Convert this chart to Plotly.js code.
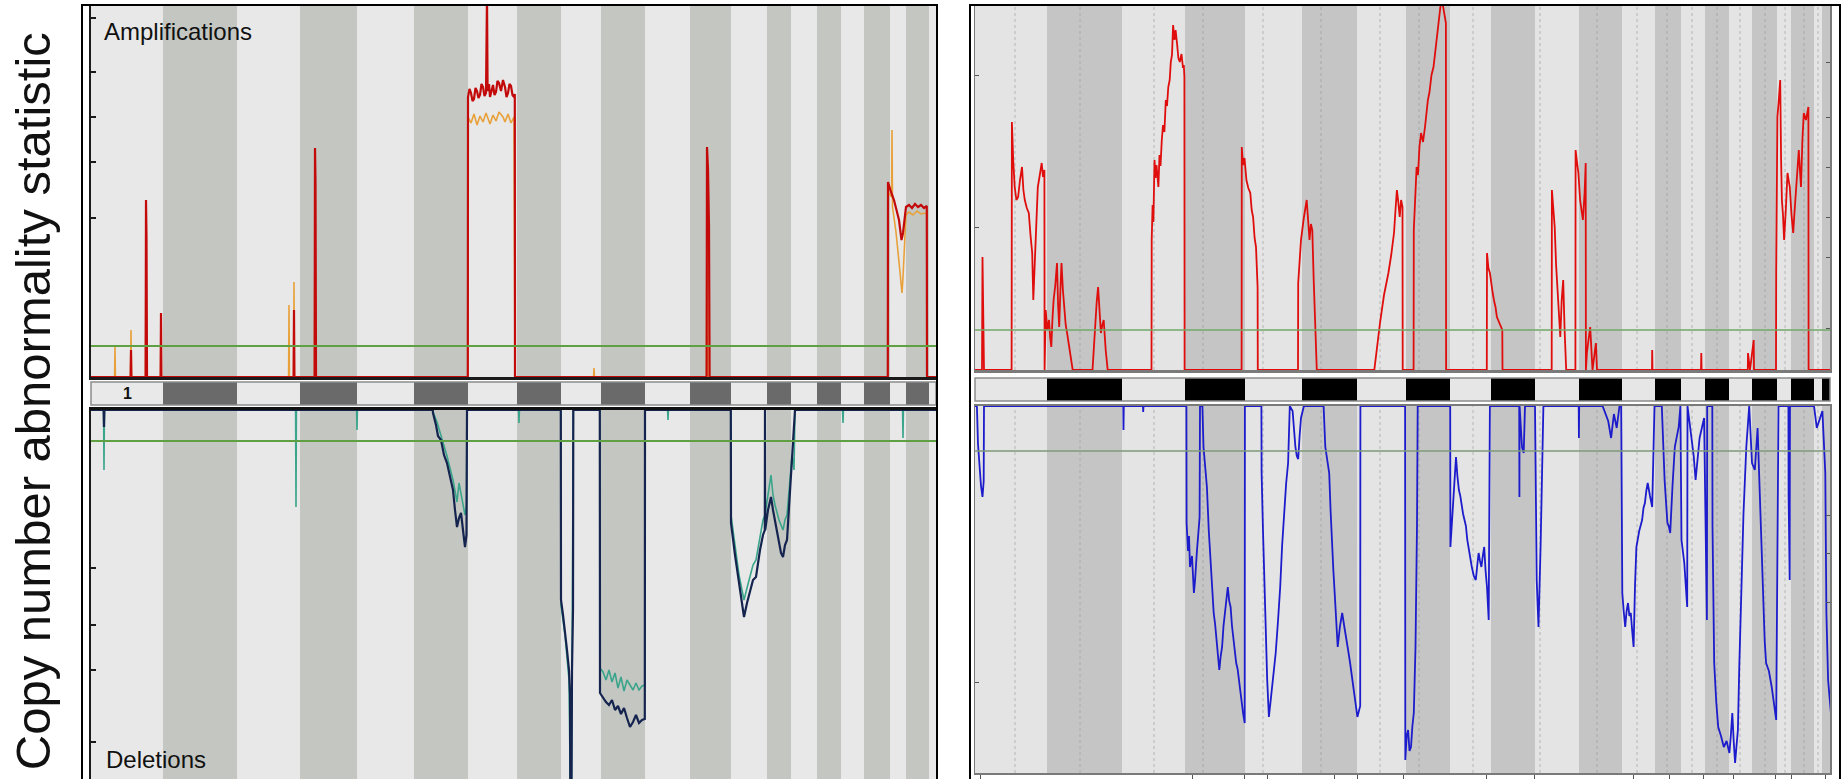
<!DOCTYPE html>
<html>
<head>
<meta charset="utf-8">
<script src="https://cdn.plot.ly/plotly-3.0.1.min.js"></script>
<style>html,body{margin:0;padding:0;background:#fff;}#chart{width:1843px;height:779px;}</style>
</head>
<body>
<div id="chart"></div>
<script>
// ---------------- DATA ----------------
// Chromosome boundaries (genome position units) for the two panels
const leftChromBounds = [0, 72, 146, 209, 266, 323, 377, 426, 470, 510, 554, 599, 640, 676, 700, 726, 750, 773, 799, 815, 838, 845];
const rightChromBounds = [0, 72, 147, 210, 270, 327, 382, 431, 475, 516, 560, 604, 647, 680, 706, 730, 754, 777, 802, 816, 839, 847, 855];
const rightCentromeres = [40, 105, 179, 228, 288, 346, 405, 444, 498, 565, 622, 662, 692, 717, 742, 765, 790, 810, 829, 843];
const chromLabels = ["1"];

// Thresholds
const leftAmpThreshold = 3.1;
const leftDelThreshold = -3.1;
const rightAmpThreshold = 4.0;
const rightDelThreshold = -4.5;

// Left panel: amplifications (two series) [position, statistic]
const leftAmpOrange = [
[0,0],[23.6,0],[24,3.0],[24.4,0],
[39.5,0],[40,4.7],[40.5,0],
[54.6,0],[55,16.5],[55.5,0],
[69.6,0],[70,5.8],[70.4,0],
[197.6,0],[198,7.2],[198.4,0],
[202.6,0],[203,9.5],[203.4,0],
[223.6,0],[224,20.9],[224.5,0],
[376.8,0],[377,26.0],[380,25.4],[383,26.3],[386,25.2],[389,26.1],[392,25.5],[395,26.4],[399,25.3],[402,26.2],[405,25.6],[408,26.5],[412,26.0],[414,25.5],[417,26.3],[420,25.4],[423,26.0],[424,0],
[502.6,0],[503,0.9],[503.4,0],
[615.6,0],[616,22.0],[617,0],
[796.8,0],[797,18.5],[800.6,18],[801,24.7],[801.5,17],[805,14.5],[808,11.5],[811,8.4],[812,10],[815,16.2],[818,16.5],[822,16.2],[826,16.6],[830,16.3],[835.8,16.4],[836,0],[845,0]
];
const leftAmpRed = [
[0,0],[39.6,0],[40,2.7],[40.4,0],
[54.6,0],[55,17.7],[55.5,14],[56,0],
[69.6,0],[70,6.4],[70.4,0],
[202.6,0],[203,6.7],[203.4,0],
[223.6,0],[224,22.9],[224.5,19.5],[225,0],
[376.8,0],[377,28.0],[378.5,28.8],[380,28.4],[381.5,27.6],[383,27.8],[384.5,28.9],[386,28.6],[387.5,27.9],[389,28.2],[390.5,29.3],[392,29.0],[393.5,28.1],[395,28.4],[396,38],[396.6,28.6],[398,29.3],[399,28.0],[400.5,28.7],[402,29.2],[403.5,28.2],[405,28.5],[406.5,29.6],[408,29.4],[410,28.6],[412,29.7],[414,29.0],[415.5,28.0],[417,28.4],[418.5,29.3],[420,29.1],[421.5,28.2],[423,28.0],[423.8,28.3],[424,0],
[615.6,0],[616,23.0],[617,20.8],[618,15],[618.6,0],
[796.8,0],[797,19.5],[800,18.5],[803,17.7],[806,16.5],[808,15.7],[810.5,13.7],[812,14.4],[815,17.0],[818,17.2],[821,16.9],[824,17.3],[827,17.0],[830,17.2],[833,16.9],[835.8,17.1],[836,0],[845,0]
];

// Left panel: deletions (two series)
const leftDelTeal = [
[0,0],[12.6,0],[13,-6.0],[13.4,0],
[204.6,0],[205,-9.7],[205.4,0],
[265.6,0],[266,-2.0],[266.4,0],
[341.8,0],[342,-0.2],[346,-1.2],[350,-2.6],[356,-4.6],[362,-7.0],[366,-9.2],[368,-7.3],[370,-8.5],[374,-10.5],[375.5,-9.5],[376,0],
[427.6,0],[428,-1.3],[428.4,0],
[469.8,0],[470,-19.5],[474,-22.5],[478,-27],[479.3,-38],[480.5,-38],[481,-25],[482.3,0],
[508.8,0],[509,-25.8],[512,-26.2],[515,-27.0],[518,-26.0],[521,-27.2],[524,-26.3],[527,-27.8],[530,-26.7],[533,-28.1],[536,-27.0],[539,-27.5],[542,-28.0],[545,-27.3],[548,-28.0],[551,-27.6],[553.8,-27.5],[554,0],
[576.6,0],[577,-1.0],[577.4,0],
[639.8,0],[640,-10.5],[644,-13.5],[648,-16.5],[651,-18.0],[653,-19.0],[656,-17.8],[659,-16.5],[662,-15.5],[665,-15.0],[669,-12.5],[672,-11.0],[674,-10.5],[677,-8.5],[680,-6.5],[682,-8.5],[684,-9.5],[688,-11.0],[690,-11.5],[692,-12.0],[694,-11.0],[696,-10.5],[699,-7.0],[701,-4.5],[703,-6.0],[704,0],
[751.6,0],[752,-1.3],[752.4,0],
[811.6,0],[812,-2.8],[812.4,0],[845,0]
];
const leftDelNavy = [
[0,0],[12.6,0],[13,-1.7],[13.4,0],
[341.8,0],[342,-0.3],[345,-1.5],[347,-2.6],[350,-3.0],[353,-4.5],[356,-5.3],[359,-6.8],[362,-8.0],[364,-10.0],[366,-11.7],[368,-10.8],[370,-10.3],[372,-12.0],[374,-13.7],[375.5,-12.5],[376,0],
[469.8,0],[470,-19.0],[472,-20.5],[474,-22.0],[476,-24.0],[478,-26.0],[479,-28.5],[479.3,-38],[480.5,-38],[481,-26],[482,-20],[482.3,0],
[508.8,0],[509,-28.3],[512,-28.8],[515,-29.2],[518,-29.5],[521,-29.0],[524,-30.0],[527,-29.6],[530,-30.4],[533,-29.8],[536,-30.8],[539,-31.7],[542,-31.2],[545,-30.5],[548,-31.3],[551,-31.0],[553.8,-30.9],[554,0],
[639.8,0],[640,-11.3],[644,-14.5],[648,-17.5],[651,-19.5],[653,-20.7],[656,-19.3],[659,-18.0],[662,-17.0],[665,-16.7],[669,-14.0],[672,-12.5],[673.8,-12.0],[674,0],[674.2,-12.0],[677,-10.0],[680,-8.7],[682,-10.0],[684,-11.0],[688,-13.0],[690,-14.3],[692,-14.7],[694,-13.5],[696,-13.0],[699,-8.0],[701,-5.3],[703,-2.0],[704,0],[845,0]
];

// Right panel: amplifications
const rightAmp = [
[0,0],[7.0,0],[7.5,11.3],[8.3,3.0],[9,0],
[36.6,0],[36.9,24.8],[38.2,21.0],[39.7,18.3],[41.4,17.0],[43.1,17.3],[45,19.0],[47,20.3],[48.4,18.0],[49.8,17.0],[51.8,16.2],[53.8,15.7],[55.5,13.5],[57.2,11.7],[58.3,7.0],[60,11.7],[61.4,15.0],[62.8,18.3],[64.8,19.5],[66.7,20.7],[68,19.3],[69.4,20.0],[69.6,0],
[70.7,6.0],[72.3,4.0],[74,5.0],[75.2,3.2],[76.3,2.3],[77.4,5.0],[78.6,7.0],[80.3,8.5],[82,10.7],[83.1,6.5],[84.2,4.3],[85.4,8.0],[86.5,10.7],[87.9,8.0],[89.3,6.0],[90.7,4.5],[92.1,3.7],[93.8,2.5],[95.5,1.7],[97.7,0],
[117.5,0],[120.3,5.3],[121.7,6.8],[123.1,8.3],[124.5,6.0],[125.9,3.7],[127.3,4.5],[128.7,5.0],[130.7,2.0],[132.7,0],
[176.5,0],[176.7,13.0],[177.6,16.5],[178.4,14.8],[179.5,21.0],[180.5,19.2],[181.5,20.5],[183.4,18.3],[184.5,21.5],[185.5,20.4],[186.8,23.0],[188,24.5],[189.4,23.8],[190.8,27.0],[192,26.4],[193.3,28.3],[194.7,29.0],[195.8,30.8],[197,31.5],[198.1,34.5],[199.5,33.0],[200.6,34.0],[202,32.7],[203.4,31.2],[204.8,30.8],[206.5,31.6],[208,30.2],[208.8,30.5],[209.4,29.3],[209.6,0],
[266.6,0],[266.8,22.3],[268,20.5],[269.5,21.2],[271.4,19.0],[273.3,18.2],[275.3,17.7],[276.7,16.0],[278.1,15.3],[279.6,13.2],[281,12.3],[282.6,8.3],[282.8,0],
[323,0],[323.2,8.7],[324.6,11.0],[326,13.0],[328.8,15.2],[331.7,17.0],[333.1,15.0],[334.5,13.0],[335.9,14.6],[337.3,14.0],[338.7,9.0],[340.1,5.3],[341.8,0],
[399.3,0],[402,2.5],[405,4.7],[409,7.5],[413.4,9.7],[416.2,11.5],[419,13.7],[420.5,16.0],[421.9,18.0],[423.3,16.8],[424.7,15.3],[426.1,17.0],[427.5,16.3],[427.7,0],
[438.6,0],[438.8,14.0],[440,17.5],[441.6,20.3],[443,19.5],[444.5,22.4],[446.1,23.7],[448,22.8],[450,24.3],[451.5,25.9],[452.9,27.0],[454.5,27.8],[456.5,29.5],[458.5,30.3],[460.3,32.0],[462.2,33.8],[464.1,35.7],[465.5,36.4],[467,37],[468.5,36.2],[470,35.5],[470.9,34.7],[471.1,0],
[511.8,0],[512,11.7],[513.4,10.2],[514.9,9.7],[516.3,8.5],[517.7,7.7],[519.1,6.9],[520.5,6.3],[521.9,5.3],[523.3,5.0],[525.3,4.4],[527.3,4.0],[527.5,0],
[576.7,0],[576.9,18.0],[578.3,15.8],[579.7,14.3],[581.1,10.5],[582.5,8.0],[583.9,5.0],[585.3,3.3],[586.7,7.0],[588.2,9.0],[589.6,4.0],[591,1.0],[591.2,0],
[600.4,0],[600.6,22.0],[602,20.8],[603.4,19.7],[605.1,17.0],[606.5,15.8],[607.9,15.0],[609.6,17.7],[610.7,20.7],[610.9,0],
[611.9,1.7],[613.5,3.0],[615.2,4.3],[617.5,0],[620.9,2.7],[622,0],
[677,0],[677.2,2.0],[677.5,0],
[726,0],[726.3,1.7],[726.6,0],
[772.8,0],[773,1.7],[775,0],[778.7,3.0],[779,0],
[801,0],[801.2,9.7],[802.4,25.3],[803.8,27.0],[805.2,29.0],[806.1,21.0],[806.9,17.0],[808,15.5],[809.1,13.0],[810.8,16.0],[812.5,19.7],[813.6,19.0],[814.8,18.3],[816.5,15.5],[818.2,13.7],[819.3,15.5],[820.4,17.0],[822.1,19.5],[823.8,22.0],[824.9,20.0],[826,18.3],[827.4,23.0],[828.8,25.7],[831,25.0],[833.4,26.3],[833.6,0],[855,0]
];

// Right panel: deletions
const rightDel = [
[0,0],[1.9,0],[3,-3.8],[4.7,-6.5],[6,-8.0],[7.5,-9.1],[8.7,-7.5],[9,0],
[148.3,0],[148.5,-2.4],[148.8,0],
[168,0],[168.2,-0.6],[168.5,0],
[211.4,0],[211.6,-11.7],[213,-14.5],[214,-13.0],[215,-16.1],[217,-15.0],[218.9,-18.7],[220,-17.5],[221.8,-14.7],[223,-13.0],[224.6,-11.1],[225,0],
[227.4,0],[228.5,-4.1],[230.2,-6.5],[231.9,-8.1],[233.8,-12.5],[235.8,-16.1],[237.2,-19.0],[238.7,-20.7],[240.1,-21.8],[241.5,-23.4],[242.9,-25.5],[244.3,-26.4],[245.7,-25.0],[247.1,-24.1],[248.5,-22.0],[249.9,-20.7],[251.3,-19.0],[252.8,-18.1],[254.2,-19.5],[255.6,-20.1],[257,-22.0],[258.4,-23.4],[259.8,-24.5],[261.2,-25.7],[262.6,-26.3],[264,-27.4],[265.4,-28.8],[266.8,-30.1],[268.2,-30.8],[269.7,-31.7],[269.9,0],
[286.4,0],[286.6,-6.7],[288,-12.5],[289.4,-18.1],[290.8,-23.0],[292.2,-27.4],[293.9,-31.1],[295,-30.0],[296.2,-29.5],[298.5,-27.0],[300.7,-24.7],[303,-21.5],[305.2,-18.1],[307.1,-14.0],[309.1,-10.7],[311.1,-7.8],[313.1,-5.7],[314.8,0],[317.6,-0.5],[319,-2.5],[320.4,-4.1],[321.8,-5.0],[323.2,-5.3],[324.6,-3.0],[326,-1.2],[328.9,0],
[348.6,0],[350.3,-4.1],[352.2,-5.5],[354.2,-6.7],[355.6,-10.5],[357,-14.1],[358.4,-16.5],[359.9,-19.1],[361.3,-21.5],[362.7,-24.1],[365,-22.0],[367.2,-20.7],[369.2,-22.0],[371.1,-23.4],[373.1,-24.4],[375.1,-25.7],[377.3,-27.5],[379.6,-29.1],[381,-30.0],[382.4,-31.1],[385.2,-30],[385.4,0],
[430.1,0],[430.3,-35.4],[431.7,-33.0],[433.1,-32.4],[434.5,-34.5],[436,-34.1],[437.4,-32.0],[438.8,-30.7],[440.5,-24.1],[442,-12],[442.7,0],
[475.2,0],[475.4,-14.1],[476.8,-12.0],[478.2,-10.1],[479.6,-7.0],[481,-5.1],[482.4,-7.0],[483.9,-8.4],[485.3,-9.0],[486.7,-10.1],[488.1,-10.8],[489.5,-11.4],[490.9,-12.0],[492.3,-13.4],[494.5,-14.8],[496.8,-16.1],[498.8,-17.0],[500.8,-17.4],[502.2,-16.0],[503.6,-14.7],[505,-15.5],[506.4,-16.1],[507.8,-15.0],[509.2,-14.1],[510.6,-16.5],[512,-18.1],[513.7,-21.4],[514.9,0],
[544.2,0],[544.4,-9.1],[544.6,0],[547,-4.1],[548.7,-4.7],[550,0],
[560,0],[561.7,-17.4],[562.8,-20.7],[563.5,-22.1],[565.6,-14.0],[568.4,0],
[603.7,0],[603.9,-3.2],[604.2,0],
[627.6,0],[633.2,-1.5],[636.1,-3.2],[638.9,-0.8],[641.7,-2.2],[644.5,0],
[646.2,0],[647.3,-18.7],[648.7,-20.5],[650.2,-22.1],[651.6,-20.5],[653,-19.7],[654.4,-21.0],[655.8,-20.7],[657.2,-22.5],[658.6,-24.1],[660,-18.0],[661.4,-14.1],[664.2,-12.5],[667.1,-11.4],[668.5,-10.2],[669.9,-9.7],[671.3,-8.5],[672.7,-7.7],[675,-9.0],[677.2,-10.1],[679.5,0],
[686.8,0],[689.6,-7.4],[691,-9.5],[692.4,-11.7],[693.8,-12.0],[695.2,-12.7],[697.5,-8.0],[699.8,-4.1],[703.7,-2.1],[705.4,0],[706.5,-13.4],[707.9,-14.5],[709.3,-15.7],[710.8,-18.0],[712.2,-20.1],[712.5,0],
[716.7,-3.2],[718.7,-5.0],[720.6,-7.4],[722.6,-5.0],[724.6,-3.2],[729.1,-1.2],[731.9,-21.4],[732.2,0],
[737.3,0],[737.5,-12],[739.2,-25.7],[741.2,-29.5],[743.2,-32.1],[746,-33.0],[748.8,-34.1],[751.6,-33.5],[754.4,-34.7],[755.8,-33.0],[757.3,-30.7],[758.7,-33.5],[760.1,-35.7],[761.5,-34.0],[762.9,-32.4],[764.3,-26.0],[765.7,-20.7],[767.1,-15.0],[768.5,-10.7],[771.3,-4.1],[774.2,0],
[777,-5.7],[779.8,-6.4],[782.6,-2.2],[785.5,-10.7],[786.9,-16.0],[788.3,-20.7],[789.7,-23.5],[791.1,-25.7],[793.9,-26.5],[796.7,-28.1],[799,-29.8],[801.2,-31.4],[803.5,0],
[813.4,0],[813.6,-9.1],[814.7,-17.4],[815,0],
[839,0],[841.8,-2.2],[847.4,-0.5],[850.3,-6.7],[851.4,-20.7],[853.1,-27.4],[855.9,-30.7]
];

// Axis tick positions (unlabelled tick marks)
const leftAmpTicks = [35.9, 30.5, 26.0, 21.5, 15.9];
const leftDelTicks = [-15.8, -21.5, -26.0, -33.2];
const rightAmpTicksL = [29.5, 14.3];
const rightAmpTicksR = [30.8, 25.3, 20.3, 15.3, 11.3, 4.2];
const rightDelTicksL = [-27.6];
const rightDelTicksR = [-10.9, -14.7, -19.6];
const rightDelMarks = [5.5, 217, 269, 292, 359.5, 382, 428, 511, 559, 658, 694, 728, 758, 800, 816, 850];

// ---------------- LAYOUT ----------------
const W = 1843, H = 779;
const px = v => v / W;
const py = v => 1 - v / H;
const LX = [px(91), px(936)];
const RX = [px(975), px(1830)];

function xs(a){return a.map(p=>p[0]);}
function ys(a){return a.map(p=>p[1]);}
function line(a, xa, ya, color, width){
  return {type:'scatter', mode:'lines', x:xs(a), y:ys(a), xaxis:xa, yaxis:ya,
          line:{color:color, width:width}, hoverinfo:'skip', showlegend:false};
}

const traces = [
  line(leftAmpOrange, 'x', 'y', '#e8a13a', 1.6),
  line(leftAmpRed, 'x', 'y', '#c30a0a', 2.2),
  line(leftDelTeal, 'x3', 'y3', '#3aa58a', 1.6),
  line(leftDelNavy, 'x3', 'y3', '#14244f', 2.2),
  line(rightAmp, 'x4', 'y4', '#e00d0d', 1.8),
  line(rightDel, 'x6', 'y6', '#1c1ccc', 1.8)
];

const shapes = [];
function stripes(bounds, xref, yref, c1, c2){
  for (let i = 0; i < bounds.length - 1; i++){
    shapes.push({type:'rect', layer:'below', xref:xref, yref:yref+' domain',
      x0:bounds[i], x1:bounds[i+1], y0:0, y1:1,
      fillcolor: i % 2 === 0 ? c1 : c2, line:{width:0}});
  }
}
stripes(leftChromBounds, 'x', 'y', '#e8e8e8', '#c4c6c2');
stripes(leftChromBounds, 'x2', 'y2', '#e9e9e9', '#6a6a6a');
stripes(leftChromBounds, 'x3', 'y3', '#e8e8e8', '#c4c6c2');
stripes(rightChromBounds, 'x4', 'y4', '#e4e4e4', '#c5c5c5');
stripes(rightChromBounds, 'x5', 'y5', '#e6e6e6', '#000000');
stripes(rightChromBounds, 'x6', 'y6', '#e4e4e4', '#c5c5c5');

// centromere dotted lines on the right panel
rightCentromeres.forEach(c => {
  ['y4','y6'].forEach(ya => {
    shapes.push({type:'line', layer:'below', xref: ya==='y4'?'x4':'x6', yref: ya+' domain',
      x0:c, x1:c, y0:0, y1:1, line:{color:'rgba(150,150,150,0.6)', width:1, dash:'dot'}});
  });
});

// band bar outlines
shapes.push({type:'rect', xref:'x2 domain', yref:'y2 domain', x0:0, x1:1, y0:0, y1:1, line:{color:'#8c8c8c', width:1.5}});
shapes.push({type:'rect', xref:'x5 domain', yref:'y5 domain', x0:0, x1:1, y0:0, y1:1, line:{color:'#8c8c8c', width:1.5}});

// threshold lines
shapes.push({type:'line', xref:'x domain', yref:'y', x0:0, x1:1, y0:leftAmpThreshold, y1:leftAmpThreshold, line:{color:'#5fa043', width:2.2}});
shapes.push({type:'line', xref:'x3 domain', yref:'y3', x0:0, x1:1, y0:leftDelThreshold, y1:leftDelThreshold, line:{color:'#5fa043', width:2.2}});
shapes.push({type:'line', xref:'x4 domain', yref:'y4', x0:0, x1:1, y0:rightAmpThreshold, y1:rightAmpThreshold, line:{color:'#72a86a', width:1.5}});
shapes.push({type:'line', xref:'x6 domain', yref:'y6', x0:0, x1:1, y0:rightDelThreshold, y1:rightDelThreshold, line:{color:'#7c9a78', width:1.5}});

// outer panel frames
shapes.push({type:'rect', xref:'paper', yref:'paper', x0:px(82), x1:px(937), y0:-0.01, y1:py(5), line:{color:'#000', width:2}});
shapes.push({type:'rect', xref:'paper', yref:'paper', x0:px(970), x1:px(1840), y0:-0.01, y1:py(5), line:{color:'#000', width:2}});

const hidden = {showgrid:false, zeroline:false, showticklabels:false, ticks:'', showline:false, fixedrange:true};

const layout = {
  width: W, height: H,
  margin:{l:0, r:0, t:0, b:0, pad:0},
  paper_bgcolor:'#ffffff', plot_bgcolor:'rgba(0,0,0,0)',
  showlegend:false,
  xaxis: Object.assign({}, hidden, {domain:LX, range:[0,845], anchor:'y', showline:true, linecolor:'#1a1a1a', linewidth:3}),
  yaxis: Object.assign({}, hidden, {domain:[py(377), py(6)], range:[0,37.1], anchor:'x', showline:true, linecolor:'#1a1a1a', linewidth:2,
          ticks:'inside', ticklen:5, tickwidth:1.5, tickcolor:'#1a1a1a', tickmode:'array', tickvals:leftAmpTicks}),
  xaxis2: Object.assign({}, hidden, {domain:LX, range:[0,845], anchor:'y2'}),
  yaxis2: Object.assign({}, hidden, {domain:[py(405), py(382)], range:[0,1], anchor:'x2'}),
  xaxis3: Object.assign({}, hidden, {domain:LX, range:[0,845], anchor:'y3', side:'top', showline:true, linecolor:'#111', linewidth:3}),
  yaxis3: Object.assign({}, hidden, {domain:[0, py(410)], range:[-36.9,0], anchor:'x3', showline:true, linecolor:'#1a1a1a', linewidth:2,
          ticks:'inside', ticklen:5, tickwidth:1.5, tickcolor:'#1a1a1a', tickmode:'array', tickvals:leftDelTicks}),
  xaxis4: Object.assign({}, hidden, {domain:RX, range:[0,855], anchor:'y4', showline:true, mirror:true, linecolor:'#7a7a7a', linewidth:2.5}),
  yaxis4: Object.assign({}, hidden, {domain:[py(370), py(6)], range:[0,36.4], anchor:'x4', showline:true, mirror:true, linecolor:'#7a7a7a', linewidth:1.5,
          ticks:'inside', ticklen:4, tickwidth:1, tickcolor:'#555', tickmode:'array', tickvals:rightAmpTicksL}),
  yaxis7: Object.assign({}, hidden, {domain:[py(370), py(6)], range:[0,36.4], anchor:'x4', overlaying:'y4', side:'right',
          ticks:'inside', ticklen:4, tickwidth:1, tickcolor:'#555', tickmode:'array', tickvals:rightAmpTicksR}),
  xaxis5: Object.assign({}, hidden, {domain:RX, range:[0,855], anchor:'y5'}),
  yaxis5: Object.assign({}, hidden, {domain:[py(401), py(378)], range:[0,1], anchor:'x5'}),
  xaxis6: Object.assign({}, hidden, {domain:RX, range:[0,855], anchor:'y6', showline:true, mirror:true, linecolor:'#7a7a7a', linewidth:2,
          ticks:'outside', ticklen:5, tickwidth:1, tickcolor:'#555', tickmode:'array', tickvals:rightDelMarks}),
  yaxis6: Object.assign({}, hidden, {domain:[py(773), py(406)], range:[-36.7,0], anchor:'x6', showline:true, mirror:true, linecolor:'#7a7a7a', linewidth:1.5,
          ticks:'inside', ticklen:4, tickwidth:1, tickcolor:'#555', tickmode:'array', tickvals:rightDelTicksL}),
  yaxis8: Object.assign({}, hidden, {domain:[py(773), py(406)], range:[-36.7,0], anchor:'x6', overlaying:'y6', side:'right',
          ticks:'inside', ticklen:4, tickwidth:1, tickcolor:'#555', tickmode:'array', tickvals:rightDelTicksR}),
  shapes: shapes,
  annotations: [
    {text:'Copy number abnormality statistic', xref:'paper', yref:'paper', x:px(33), y:0.485, textangle:-90,
     showarrow:false, xanchor:'center', yanchor:'middle', font:{family:'Liberation Sans, Arial, sans-serif', size:49, color:'#111'}},
    {text:'Amplifications', xref:'paper', yref:'paper', x:px(102), y:py(31), showarrow:false, xanchor:'left', yanchor:'middle',
     font:{family:'Liberation Sans, Arial, sans-serif', size:24, color:'#111'}},
    {text:'Deletions', xref:'paper', yref:'paper', x:px(104), y:py(759), showarrow:false, xanchor:'left', yanchor:'middle',
     font:{family:'Liberation Sans, Arial, sans-serif', size:24, color:'#111'}},
    {text:'<b>' + chromLabels[0] + '</b>', xref:'x2', yref:'y2 domain', x:(leftChromBounds[0]+leftChromBounds[1])/2, y:0.5, showarrow:false,
     xanchor:'center', yanchor:'middle', font:{family:'Liberation Sans, Arial, sans-serif', size:16, color:'#111'}}
  ]
};

// dummy traces so overlay/band axes exist
traces.push({type:'scatter', mode:'lines', x:[0], y:[0], xaxis:'x4', yaxis:'y7', line:{width:0}, hoverinfo:'skip', showlegend:false});
traces.push({type:'scatter', mode:'lines', x:[0], y:[0], xaxis:'x6', yaxis:'y8', line:{width:0}, hoverinfo:'skip', showlegend:false});
traces.push({type:'scatter', mode:'lines', x:[0], y:[0], xaxis:'x2', yaxis:'y2', line:{width:0}, hoverinfo:'skip', showlegend:false});
traces.push({type:'scatter', mode:'lines', x:[0], y:[0], xaxis:'x5', yaxis:'y5', line:{width:0}, hoverinfo:'skip', showlegend:false});

Plotly.newPlot('chart', traces, layout, {displayModeBar:false, staticPlot:true});
</script>
</body>
</html>
